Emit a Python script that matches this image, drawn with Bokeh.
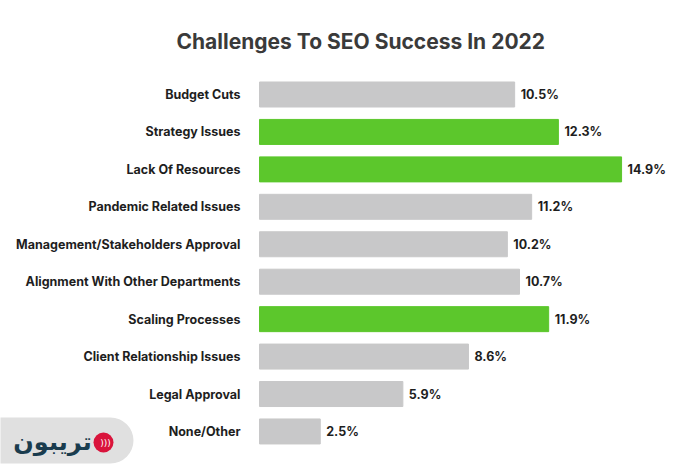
from bokeh.plotting import figure
from bokeh.models import Range1d, ColumnDataSource
from bokeh.core.properties import value
from bokeh.embed import file_html
from bokeh.resources import INLINE

categories = [
    "Budget Cuts",
    "Strategy Issues",
    "Lack Of Resources",
    "Pandemic Related Issues",
    "Management/Stakeholders Approval",
    "Alignment With Other Departments",
    "Scaling Processes",
    "Client Relationship Issues",
    "Legal Approval",
    "None/Other",
]
values = [10.5, 12.3, 14.9, 11.2, 10.2, 10.7, 11.9, 8.6, 5.9, 2.5]
highlight = [False, True, True, False, False, False, True, False, False, False]
title_text = "Challenges To SEO Success In 2022"
logo_text = "تریبون"

GRAY = "#c8c8c9"
GREEN = "#5cc72c"
FONT = "Inter"

W, H = 692, 467
TOP = 60               # frame top (px)
ZERO_PX = 259          # pixel of value 0
PX_PER_UNIT = 24.3     # horizontal scale
ROW0_PX = 94           # centre of first row
ROW_PX = 37.44         # row spacing

colors = [GREEN if h else GRAY for h in highlight]
labels = [f"{v}%" for v in values]
rows = list(range(len(categories)))
src = ColumnDataSource(dict(row=rows, cat=categories, val=values, color=colors,
                            lab=labels, zero=[0] * len(rows)))

x_start = -ZERO_PX / PX_PER_UNIT
x_end = x_start + W / PX_PER_UNIT
y_top = (TOP - ROW0_PX) / ROW_PX
y_bottom = (H - ROW0_PX) / ROW_PX

def px_x(px):
    return x_start + px / PX_PER_UNIT

def px_y(py):
    return (py - ROW0_PX) / ROW_PX

p = figure(
    width=W, height=H, output_backend="svg", toolbar_location=None,
    x_range=Range1d(x_start, x_end), y_range=Range1d(y_bottom, y_top),
    x_axis_type=None, y_axis_type=None,
    min_border_left=0, min_border_right=0, min_border_top=TOP, min_border_bottom=0,
)

p.title.text = title_text
p.title.align = "left"
p.title.offset = 176
p.title.text_font = FONT
p.title.text_font_size = "21px"
p.title.text_font_style = "bold"
p.title.text_color = "#3a3a3a"
p.title.standoff = 13

p.xgrid.grid_line_color = None
p.ygrid.grid_line_color = None
p.outline_line_color = None

p.hbar(y="row", left=0, right="val", height=0.668, color="color", source=src)
p.text(x="val", y="row", text="lab", x_offset=6, text_baseline="middle",
       text_align="left", text_font=value(FONT), text_font_style="bold",
       text_font_size="12.5px", text_color="#1e1e1e", source=src)
p.text(x="zero", y="row", text="cat", x_offset=-19, text_baseline="middle",
       text_align="right", text_font=value(FONT), text_font_style="bold",
       text_font_size="12.5px", text_color="#1e1e1e", source=src)

# logo badge (bottom-left)
p.quad(left=[px_x(-30)], right=[px_x(133)], top=[px_y(417)], bottom=[px_y(463)],
       fill_color="#e0e0e0", line_color=None, border_radius=23)
p.text(x=[px_x(52)], y=[px_y(441)], text=[logo_text], text_align="center",
       text_baseline="middle", text_font=value("DejaVu Sans"), text_font_style="bold",
       text_font_size="24px", text_color="#1a3c4e")
p.scatter(x=[px_x(103)], y=[px_y(442)], size=20, marker="circle",
          fill_color="#d9143c", line_color=None)
p.text(x=[px_x(105)], y=[px_y(442)], text=[")))"], text_align="center",
       text_baseline="middle", text_font=value("DejaVu Sans"),
       text_font_size="9px", text_color="#ffffff")

open("out.html", "w").write(file_html(p, INLINE))
